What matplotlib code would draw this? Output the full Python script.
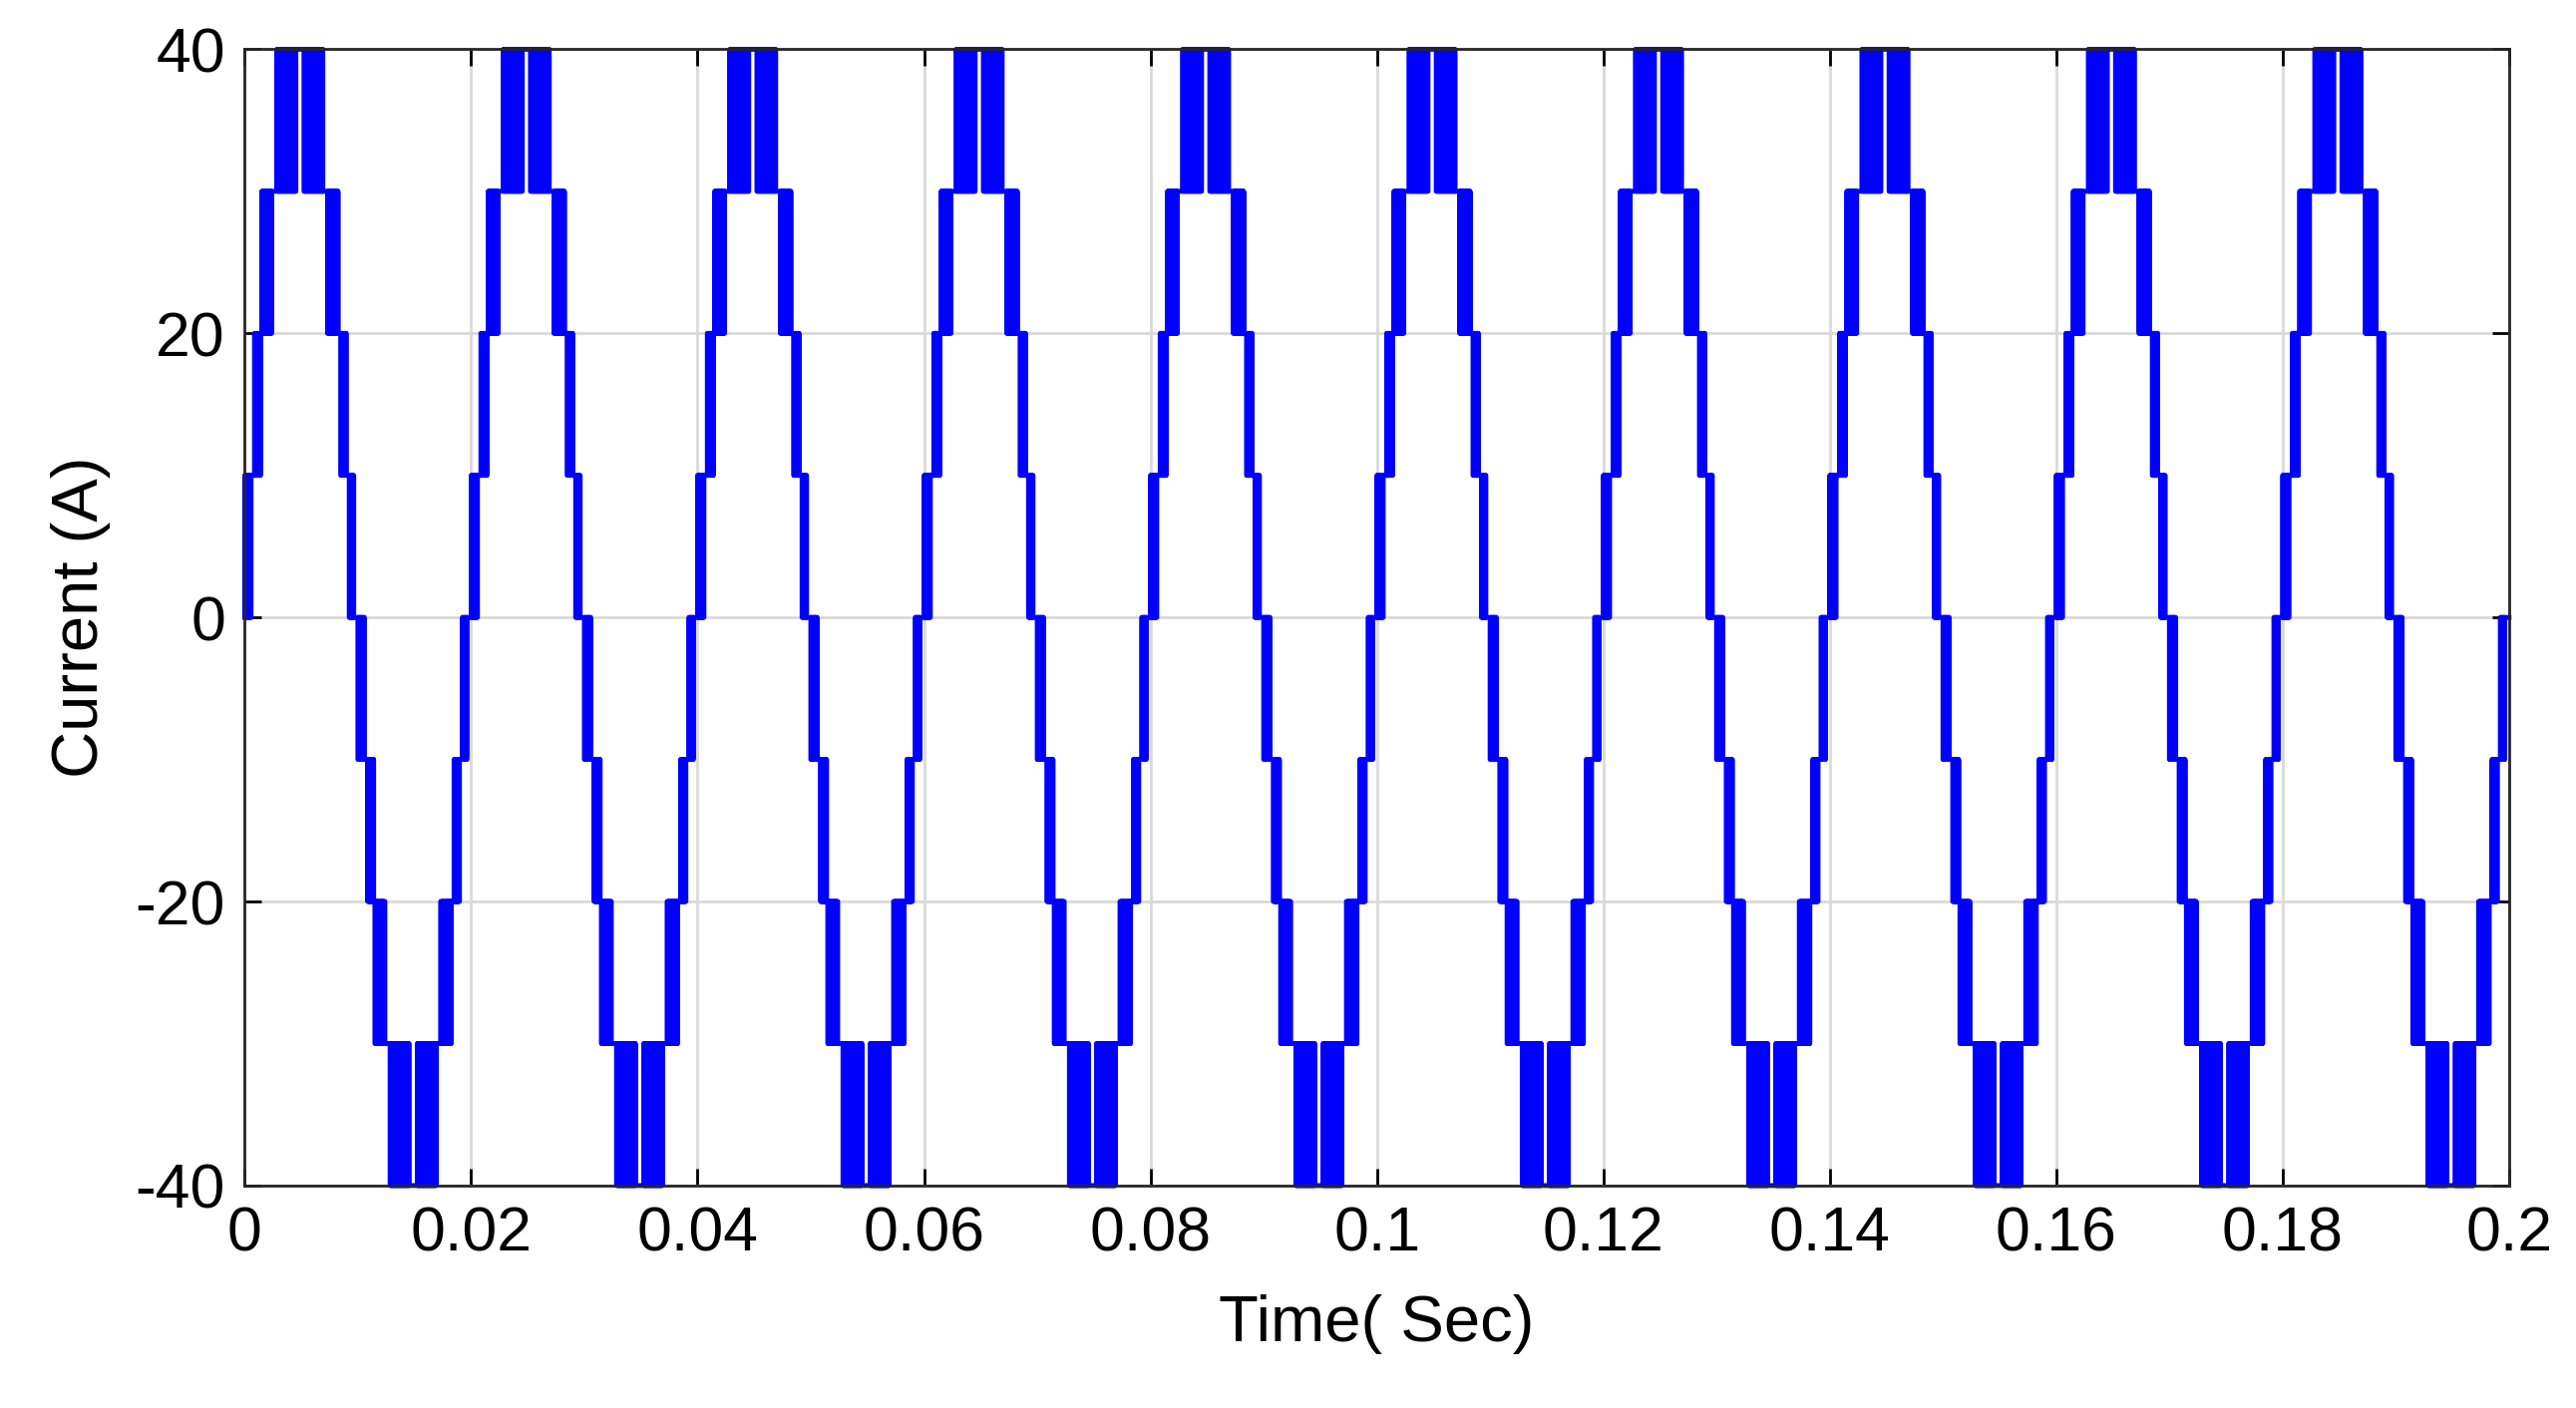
import numpy as np
import matplotlib.pyplot as plt

plt.rcParams['font.family'] = ['Liberation Sans', 'DejaVu Sans']
plt.rcParams['axes.unicode_minus'] = False

# PWM switching bands over the positive half cycle (ms), between lo and hi levels (A)
band_start = [0.00, 0.86, 1.50, 2.84, 5.20, 7.27, 8.45, 9.19]
band_end   = [0.56, 1.39, 2.40, 4.55, 6.90, 8.24, 8.98, 9.66]
band_lo    = [0, 10, 20, 30, 30, 20, 10, 0]
band_hi    = [10, 20, 30, 40, 40, 30, 20, 10]
hold_level = [10, 20, 30, 40, 30, 20, 10, 0]   # level held after each band
period_ms = 20.0
n_cycles = 10
switch_ms = 0.04

t, y = [], []
for c in range(n_cycles):
    for half, sign in ((0, 1), (1, -1)):
        off = c * period_ms + half * period_ms / 2
        for s, e, lo, hi, hold in zip(band_start, band_end, band_lo, band_hi, hold_level):
            tt = np.arange(s, e, switch_ms)
            for i, ti in enumerate(tt):
                lev = hi if i % 2 == 0 else lo
                t += [off + ti, off + ti]
                y += [y[-1] if y else 0, sign * lev]
            t += [off + e, off + e]
            y += [y[-1], sign * hold]
t.append(n_cycles * period_ms)
y.append(y[-1])
t = np.array(t) / 1000.0
y = np.array(y)

fig = plt.figure(figsize=(25.83, 14.12), dpi=100)
ax = fig.add_axes([0.095, 0.158, 0.879, 0.807])
ax.plot(t, y, color='#0000ff', linewidth=3.5, clip_on=False)
ax.set_xlim(0, 0.2)
ax.set_ylim(-40, 40)
xt = np.arange(0, 0.2001, 0.02)
ax.set_xticks(xt)
ax.set_xticklabels(['0', '0.02', '0.04', '0.06', '0.08', '0.1', '0.12', '0.14', '0.16', '0.18', '0.2'])
ax.set_yticks([-40, -20, 0, 20, 40])
ax.grid(True, color='#d9d9d9', linewidth=2)
ax.set_axisbelow(True)
ax.tick_params(direction='in', length=12, width=2, labelsize=45, pad=14,
               top=True, right=True)
for sp in ax.spines.values():
    sp.set_linewidth(2)
    sp.set_color('#262626')
ax.set_xlabel('Time( Sec)', fontsize=47, labelpad=22)
ax.set_ylabel('Current (A)', fontsize=47, labelpad=18)
fig.savefig('out.png', dpi=100)
